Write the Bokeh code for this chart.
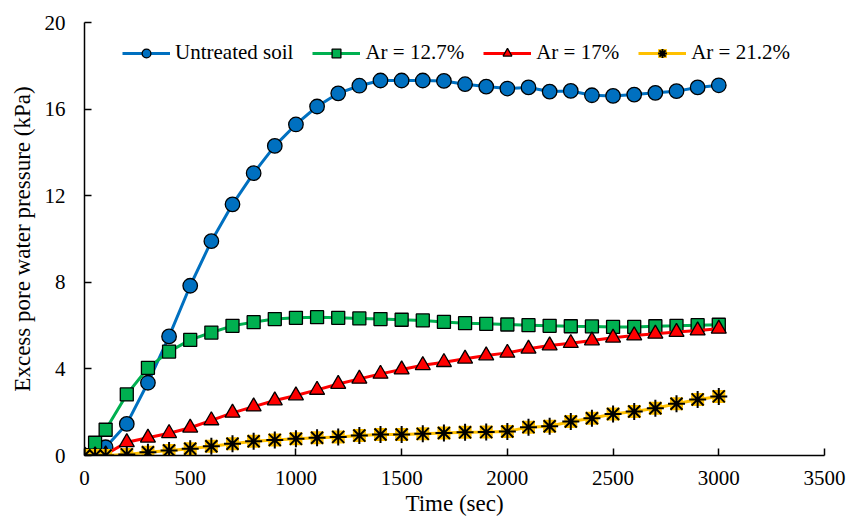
from bokeh.plotting import figure
from bokeh.models import Range1d, FixedTicker, Legend, LegendItem
from bokeh.embed import file_html
from bokeh.resources import INLINE

# Time (sec)
time = [0, 50, 100, 200, 300, 400, 500, 600, 700, 800, 900, 1000, 1100, 1200,
        1300, 1400, 1500, 1600, 1700, 1800, 1900, 2000, 2100, 2200, 2300, 2400,
        2500, 2600, 2700, 2800, 2900, 3000]

# Excess pore water pressure (kPa)
untreated = [0, 0.05, 0.38, 1.46, 3.36, 5.5, 7.84, 9.9, 11.6, 13.04, 14.3, 15.29,
             16.12, 16.73, 17.08, 17.32, 17.32, 17.32, 17.3, 17.15, 17.04, 16.95,
             17.0, 16.81, 16.84, 16.64, 16.61, 16.67, 16.75, 16.83, 17.0, 17.1]
ar_127 = [0, 0.59, 1.19, 2.82, 4.05, 4.8, 5.34, 5.68, 5.99, 6.16, 6.3, 6.36, 6.39,
          6.36, 6.33, 6.3, 6.27, 6.24, 6.17, 6.11, 6.08, 6.05, 6.02, 5.99, 5.97,
          5.96, 5.94, 5.94, 5.97, 5.99, 6.02, 6.04]
ar_17 = [0, 0, 0.05, 0.61, 0.82, 1.03, 1.28, 1.62, 1.97, 2.26, 2.54, 2.77, 3.03,
         3.3, 3.54, 3.77, 3.97, 4.17, 4.31, 4.47, 4.62, 4.74, 4.93, 5.08, 5.19,
         5.31, 5.44, 5.54, 5.62, 5.7, 5.77, 5.85]
ar_212 = [0, 0, 0, 0.05, 0.15, 0.23, 0.31, 0.43, 0.54, 0.66, 0.72, 0.77, 0.82,
          0.86, 0.92, 0.97, 0.97, 1.0, 1.04, 1.07, 1.08, 1.11, 1.31, 1.35, 1.57,
          1.72, 1.92, 2.03, 2.18, 2.39, 2.59, 2.73]

labels = ["Untreated soil", "Ar = 12.7%", "Ar = 17%", "Ar = 21.2%"]
x_ticks = [0, 500, 1000, 1500, 2000, 2500, 3000, 3500]
y_ticks = [0, 4, 8, 12, 16, 20]

FONT = "Liberation Serif"

p = figure(width=849, height=524, output_backend="svg", toolbar_location=None,
           x_range=Range1d(0, 3500), y_range=Range1d(0, 20),
           min_border_left=84, min_border_right=25, min_border_top=22,
           min_border_bottom=69)
p.outline_line_color = None
p.grid.grid_line_color = None
p.background_fill_color = "white"
p.border_fill_color = "white"

p.xaxis.ticker = FixedTicker(ticks=x_ticks)
p.yaxis.ticker = FixedTicker(ticks=y_ticks)
p.xaxis.axis_label = "Time (sec)"
p.yaxis.axis_label = "Excess pore water pressure (kPa)"
for ax in (p.xaxis, p.yaxis):
    ax.axis_line_color = "black"
    ax.axis_line_width = 1.5
    ax.major_tick_line_color = "black"
    ax.major_tick_line_width = 1.5
    ax.major_tick_in = 7
    ax.major_tick_out = 0
    ax.minor_tick_line_color = None
    ax.major_label_text_font = FONT
    ax.major_label_text_font_size = "21px"
    ax.major_label_text_color = "black"
    ax.axis_label_text_font = FONT
    ax.axis_label_text_font_size = "23px"
    ax.axis_label_text_font_style = "normal"
    ax.axis_label_text_color = "black"
p.xaxis.major_label_standoff = 15
p.xaxis.axis_label_standoff = 3
p.yaxis.major_label_standoff = 19
p.yaxis.axis_label_standoff = 7

items = []

# Untreated soil: blue circles
l1 = p.line(time, untreated, line_color="#0070C0", line_width=3)
m1 = p.scatter(time, untreated, marker="circle", size=14.5, fill_color="#0070C0",
               line_color="black", line_width=1.3)
items.append(LegendItem(label=labels[0], renderers=[l1, m1]))

# Ar = 12.7%: green squares
l2 = p.line(time, ar_127, line_color="#00B050", line_width=3)
m2 = p.scatter(time, ar_127, marker="square", size=13, fill_color="#00B050",
               line_color="black", line_width=1.3)
items.append(LegendItem(label=labels[1], renderers=[l2, m2]))

# Ar = 17%: red triangles
l3 = p.line(time, ar_17, line_color="#FF0000", line_width=3)
m3 = p.scatter(time, ar_17, marker="triangle", size=15, fill_color="#FF0000",
               line_color="black", line_width=1.3)
items.append(LegendItem(label=labels[2], renderers=[l3, m3]))

# Ar = 21.2%: yellow-backed asterisks
l4 = p.line(time, ar_212, line_color="#FFC000", line_width=3)
b4 = p.scatter(time, ar_212, marker="square", size=13, fill_color="#FFC000",
               line_color=None)
m4 = p.scatter(time, ar_212, marker="asterisk", size=17, line_color="black",
               line_width=2)
items.append(LegendItem(label=labels[3], renderers=[l4, b4, m4]))

legend = Legend(items=items, orientation="horizontal", location=(38, 390),
                border_line_color=None, background_fill_alpha=0,
                padding=0, margin=0, spacing=19, glyph_width=48,
                glyph_height=22, label_height=22, label_standoff=5,
                label_text_font=FONT, label_text_font_size="21px",
                label_text_color="black")
p.add_layout(legend, "center")

open("out.html", "w").write(file_html(p, INLINE))
